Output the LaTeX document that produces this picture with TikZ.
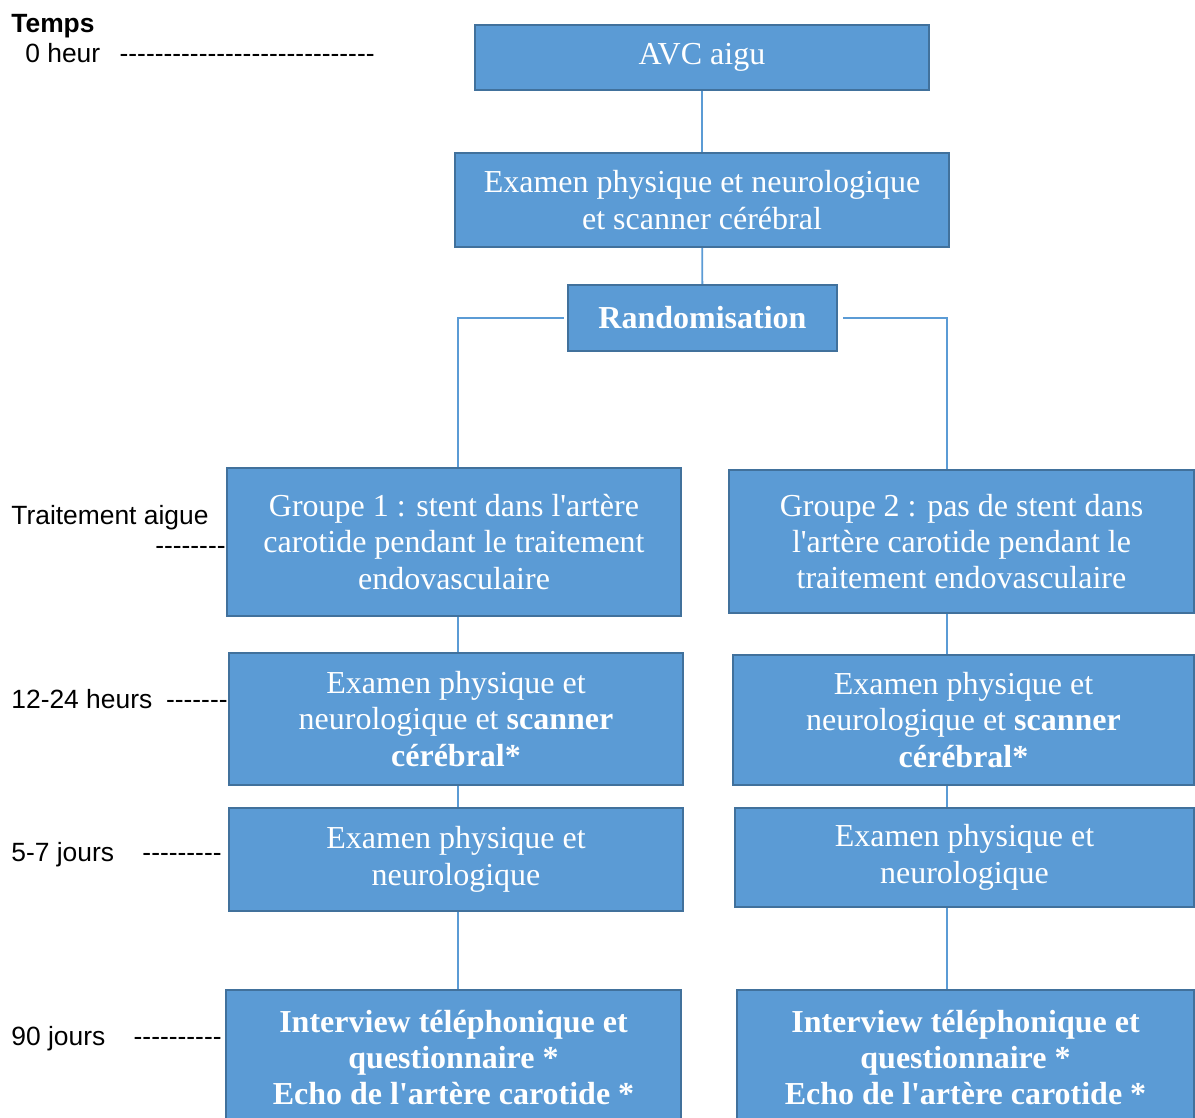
\documentclass[tikz,border=0pt]{standalone}
\usepackage{fontspec}
\usepackage{xcolor}
\newfontfamily\boxfont[Ligatures=TeXOff]{Liberation Serif}
\newfontfamily\labelfont[Ligatures=TeXOff]{Liberation Sans}
\definecolor{boxfill}{HTML}{5B9BD5}
\definecolor{boxline}{HTML}{41719C}
\newcommand\tirets[1]{\foreach\k in {1,...,#1}{-}}

\begin{document}
\begin{tikzpicture}[x=0.5pt, y=-0.5pt]
  \useasboundingbox (0,0) rectangle (1195,1118);
  %
  % boxes
  \tikzstyle{etape}=[draw=boxline, fill=boxfill, line width=1.2pt, text=white,
    align=center, inner sep=0pt, font=\boxfont\fontsize{16}{18.2}\selectfont];
  \tikzstyle{etapegras}=[etape, font=\boxfont\bfseries\fontsize{16}{18.2}\selectfont];
  \node[etape, minimum width=227pt, minimum height=32.5pt] (avc) at (702,57.5) {AVC aigu};
  \node[etape, minimum width=247pt, minimum height=47pt] (exam) at (702,200)
    {Examen physique et neurologique\\et scanner cérébral};
  \node[etape, minimum width=134.5pt, minimum height=33pt] (rand) at (702.5,318)
    {\textbf{Randomisation}};
  %
  % group 1
  \node[etape, minimum width=227pt, minimum height=74pt] (g1) at (454,542)
    {Groupe 1 : stent dans l'artère\\carotide pendant le traitement\\endovasculaire};
  \node[etape, minimum width=227pt, minimum height=66pt] (g1scan) at (456,719)
    {Examen physique et\\neurologique et \textbf{scanner}\\\textbf{cérébral*}};
  \node[etape, minimum width=227pt, minimum height=51.5pt] (g1exam) at (456,859.5)
    {Examen physique et\\neurologique};
  \node[etapegras, minimum width=227.5pt, minimum height=67.5pt] (g1suivi) at (453.5,1057.5)
    {Interview téléphonique et\\questionnaire *\\Echo de l'artère carotide *};
  %
  % group 2
  \node[etape, minimum width=232.5pt, minimum height=71.5pt] (g2) at (961.5,541.5)
    {Groupe 2 : pas de stent dans\\l'artère carotide pendant le\\traitement endovasculaire};
  \node[etape, minimum width=230.5pt, minimum height=65pt] (g2scan) at (963.5,720)
    {Examen physique et\\neurologique et \textbf{scanner}\\\textbf{cérébral*}};
  \node[etape, minimum width=229.5pt, minimum height=49.5pt] (g2exam) at (964.5,857.5)
    {Examen physique et\\neurologique};
  \node[etapegras, minimum width=228.5pt, minimum height=67.5pt] (g2suivi) at (965.5,1057.5)
    {Interview téléphonique et\\questionnaire *\\Echo de l'artère carotide *};
  %
  % links
  \tikzstyle{lien}=[draw=boxfill, line width=0.9pt];
  \coordinate (colL) at (458,0);
  \coordinate (colR) at (947,0);
  \draw[lien] (avc) -- (exam);
  \draw[lien] (exam) -- (rand);
  \draw[lien] ([xshift=-1.5pt]rand.west) -| (g1.north -| colL);
  \draw[lien] ([xshift=2.5pt]rand.east) -| (g2.north -| colR);
  \draw[lien] (g1.south -| colL) -- (g1scan.north -| colL);
  \draw[lien] (g1scan.south -| colL) -- (g1exam.north -| colL);
  \draw[lien] (g1exam.south -| colL) -- (g1suivi.north -| colL);
  \draw[lien] (g2.south -| colR) -- (g2scan.north -| colR);
  \draw[lien] (g2scan.south -| colR) -- (g2exam.north -| colR);
  \draw[lien] (g2exam.south -| colR) -- (g2suivi.north -| colR);
  %
  % time scale
  \tikzstyle{temps}=[anchor=base west, inner sep=0pt, font=\labelfont\fontsize{13.2}{15.8}\selectfont];
  \tikzstyle{tempsgras}=[temps, font=\labelfont\bfseries\fontsize{13.2}{15.8}\selectfont];
  \tikzstyle{trait}=[temps, anchor=base east];
  \node[tempsgras] (titre) at (11,33) {Temps};
  \node[temps] (t0) at (25,63) {0 heur};
  \node[trait] (d0) at (375,63) {\tirets{29}};
  \node[temps] (t1) at (11,524) {Traitement aigue};
  \node[trait] (d1) at (226,554) {\tirets{8}};
  \node[temps] (t2) at (11,708) {12-24 heurs};
  \node[trait] (d2) at (228,708) {\tirets{7}};
  \node[temps] (t3) at (11,861) {5-7 jours};
  \node[trait] (d3) at (222,861) {\tirets{9}};
  \node[temps] (t4) at (11,1045) {90 jours};
  \node[trait] (d4) at (222,1045) {\tirets{10}};
\end{tikzpicture}
\end{document}
